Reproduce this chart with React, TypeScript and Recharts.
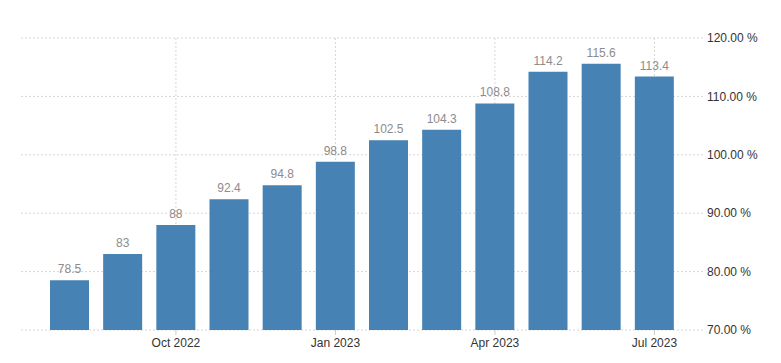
import { BarChart, Bar, XAxis, YAxis, CartesianGrid, LabelList } from 'recharts';

const months = [
  'Aug 2022', 'Sep 2022', 'Oct 2022', 'Nov 2022', 'Dec 2022', 'Jan 2023',
  'Feb 2023', 'Mar 2023', 'Apr 2023', 'May 2023', 'Jun 2023', 'Jul 2023',
];
const values = [78.5, 83, 88, 92.4, 94.8, 98.8, 102.5, 104.3, 108.8, 114.2, 115.6, 113.4];
const xTicks = ['Oct 2022', 'Jan 2023', 'Apr 2023', 'Jul 2023'];
const yTicks = [70, 80, 90, 100, 110, 120];

const data = months.map((month, i) => ({ month, value: values[i] }));

const font = '"Liberation Sans", Arial, sans-serif';
const gridColor = '#d6d6d6';

export default function App() {
  return (
    <div style={{ position: 'absolute', left: 0, top: 0, background: '#fff' }}>
      <BarChart
        width={781}
        height={363}
        data={data}
        margin={{ top: 38, right: 0, left: 21, bottom: 0 }}
        style={{ fontFamily: font }}
      >
        {/* grid only at the quarter ticks, nothing on the plot edges */}
        <CartesianGrid
          stroke={gridColor}
          strokeDasharray="2 2"
          verticalValues={xTicks}
          horizontalValues={yTicks}
          syncWithTicks
        />
        <XAxis
          dataKey="month"
          ticks={xTicks}
          interval={0}
          height={33}
          axisLine={false}
          tickLine={{ stroke: '#cccccc' }}
          tickSize={5}
          tickMargin={3}
          padding={{ left: 22, right: 22 }}
          tick={{ fontSize: 12, fill: '#333333', fontFamily: font }}
        />
        <YAxis
          orientation="right"
          domain={[70, 120]}
          ticks={yTicks}
          width={78}
          axisLine={false}
          tickLine={false}
          tickSize={0}
          tickMargin={4}
          tick={{ fontSize: 12, fill: '#333333', fontFamily: font, textAnchor: 'start' }}
          tickFormatter={(v: number) => `${v.toFixed(2)} %`}
        />
        <Bar dataKey="value" fill="#4682b4" barSize={39} isAnimationActive={false}>
          <LabelList
            dataKey="value"
            position="top"
            offset={7}
            style={{ fontSize: 12, fill: '#8c8c8c', fontFamily: font }}
          />
        </Bar>
      </BarChart>
    </div>
  );
}
